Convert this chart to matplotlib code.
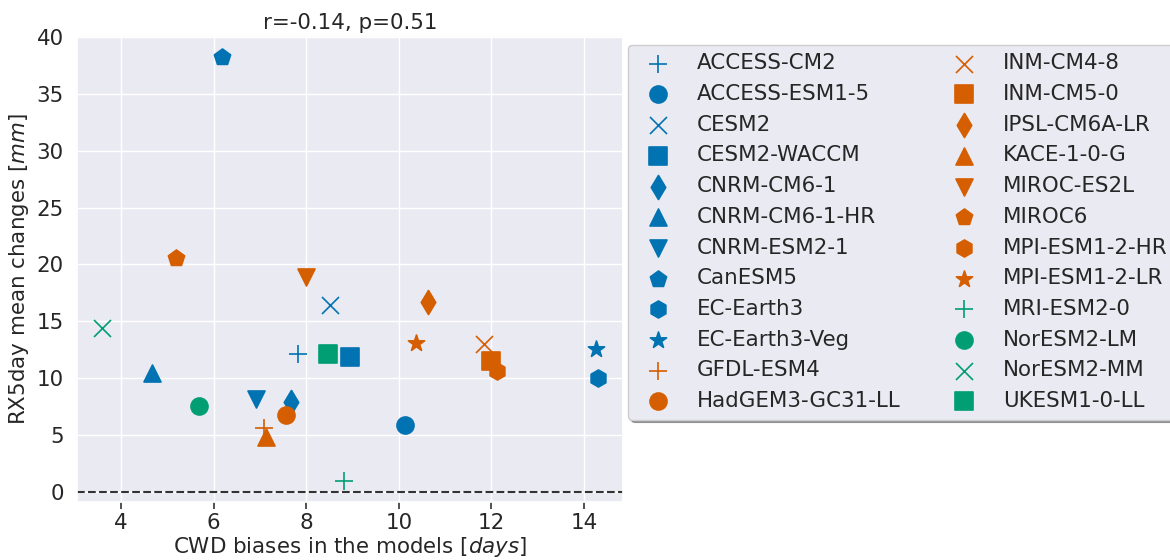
import matplotlib
matplotlib.use("Agg")
import matplotlib.pyplot as plt
import seaborn as sns

models = ["ACCESS-CM2", "ACCESS-ESM1-5", "CESM2", "CESM2-WACCM", "CNRM-CM6-1",
          "CNRM-CM6-1-HR", "CNRM-ESM2-1", "CanESM5", "EC-Earth3", "EC-Earth3-Veg",
          "GFDL-ESM4", "HadGEM3-GC31-LL", "INM-CM4-8", "INM-CM5-0", "IPSL-CM6A-LR",
          "KACE-1-0-G", "MIROC-ES2L", "MIROC6", "MPI-ESM1-2-HR", "MPI-ESM1-2-LR",
          "MRI-ESM2-0", "NorESM2-LM", "NorESM2-MM", "UKESM1-0-LL"]

cwd_bias = [7.81, 10.13, 8.52, 8.94, 7.67,
            4.67, 6.91, 6.17, 14.30, 14.26,
            7.09, 7.57, 11.85, 11.98, 10.64,
            7.12, 8.00, 5.19, 12.11, 10.37,
            8.82, 5.67, 3.58, 8.46]

rx5day_change = [12.15, 5.91, 16.40, 11.82, 7.90,
                 10.45, 8.12, 38.28, 9.99, 12.55,
                 5.59, 6.74, 12.96, 11.47, 16.65,
                 4.78, 18.92, 20.58, 10.66, 13.07,
                 0.93, 7.57, 14.41, 12.12]

markers = ["+", "o", "x", "s", "d", "^", "v", "p", "h", "*"]
palette = ["#0173b2", "#d55e00", "#029e73"]

sns.set_theme(style="darkgrid")
plt.rcParams["font.family"] = ["DejaVu Sans"]
fs = 15.4

fig = plt.figure(figsize=(11.7, 5.6), dpi=100)
ax = fig.add_axes([0.0658, 0.103, 0.4664, 0.8336])

for i, name in enumerate(models):
    ax.scatter(cwd_bias[i], rx5day_change[i], s=150,
               marker=markers[i % 10], color=palette[i // 10],
               linewidths=1.2, label=name, zorder=3)

ax.axhline(0, color="#333333", ls="--", lw=1.5, zorder=2)

ax.set_title("r=-0.14, p=0.51", fontsize=fs, color=".15", pad=5)
ax.set_xlabel("CWD biases in the models [$days$]", fontsize=fs, labelpad=1)
ax.set_ylabel("RX5day mean changes [$mm$]", fontsize=fs, labelpad=4)
ax.tick_params(axis="both", labelsize=fs)
ax.tick_params(axis="x", bottom=True, length=5, width=1.2, color=".2", pad=3)
ax.set_yticks([0, 5, 10, 15, 20, 25, 30, 35, 40])

ax.legend(loc="upper left", bbox_to_anchor=(1.01, 0.98), borderaxespad=0,
          ncol=2, fontsize=fs, shadow=True, frameon=True)

fig.savefig("out.png", dpi=100)
